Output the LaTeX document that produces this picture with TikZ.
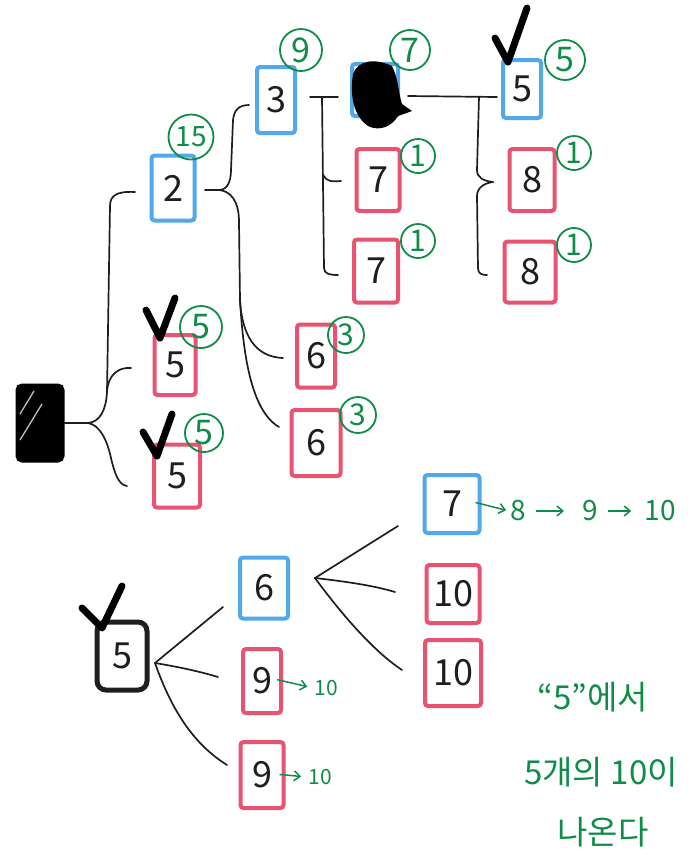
\documentclass[tikz,border=0pt]{standalone}
\usepackage{fontspec}
\setmainfont{Noto Sans CJK KR}
\usetikzlibrary{arrows.meta}
\definecolor{crayonblue}{RGB}{62,158,232}
\definecolor{crayonred}{RGB}{228,64,96}
\definecolor{pengreen}{RGB}{16,140,72}
\definecolor{pencil}{RGB}{30,30,30}
\begin{document}
\begin{tikzpicture}[x=1pt,y=-1pt,
  card/.style={draw, line width=4pt, rounded corners=3pt, inner sep=0pt,
    text=pencil, font=\fontsize{36}{40}\selectfont},
  bluecard/.style={card, draw=crayonblue, draw opacity=0.9},
  redcard/.style={card, draw=crayonred, draw opacity=0.9},
  tag/.style={circle, draw=pengreen, text=pengreen, line width=1.8pt,
    minimum size=38pt, inner sep=0pt, font=\fontsize{34}{34}\selectfont},
  onetag/.style={tag, minimum size=34pt, font=\fontsize{30}{30}\selectfont},
  wire/.style={line width=1.7pt, draw=pencil, line cap=round, line join=round},
  tick/.style={line width=7pt, draw=black, line cap=round, line join=round},
  gtext/.style={text=pengreen, inner sep=1pt},
  chainnum/.style={gtext, font=\fontsize{28}{28}\selectfont},
  smallnum/.style={gtext, font=\fontsize{21}{21}\selectfont},
  note/.style={text=pengreen, font=\fontsize{33}{35}\selectfont},
  garrow/.style={draw=pengreen, line width=1.5pt, -{Straight Barb[length=6pt,width=10pt]}}
]
\useasboundingbox (0,0) rectangle (696,855);

% ---------- upper tree: boxes ----------
\node[draw=black, fill=black, line width=3pt, rounded corners=5pt,
      minimum width=46pt, minimum height=76pt] (root) at (40,423) {};
\draw[white, line width=1.3pt, opacity=0.75] (20,414) -- (34,391) (20,440) -- (42,404);

\node[bluecard, minimum width=43pt, minimum height=65pt] (two) at (173,188) {2};
\node[tag, minimum size=45pt, font=\fontsize{28}{28}\selectfont] (t15) at (191,137) {15};

\node[bluecard, minimum width=38pt, minimum height=66pt] (three) at (276,100) {3};
\node[tag, minimum size=42pt] (t9) at (301,50) {9};

\node[bluecard, minimum width=46pt, minimum height=52pt] (four) at (375,90) {};
\fill[black] (353,74) .. controls (358,60) and (375,58) .. (392,66)
  .. controls (399,80) and (398,92) .. (402,104) -- (412,111)
  -- (398,116) .. controls (392,126) and (380,132) .. (368,126)
  .. controls (356,118) and (349,100) .. (353,74) -- cycle;
\node[tag, minimum size=40pt] (t7) at (410,50) {7};

\node[bluecard, minimum width=38pt, minimum height=58pt] (five) at (522,89) {5};
\node[tag, minimum size=40pt] (t5) at (565,60) {5};

\node[redcard, minimum width=43pt, minimum height=62pt] (sevA) at (378,180) {7};
\node[onetag] (t1a) at (418,156) {1};
\node[redcard, minimum width=44pt, minimum height=63pt] (sevB) at (376,271) {7};
\node[onetag] (t1b) at (418,241) {1};

\node[redcard, minimum width=45pt, minimum height=62pt] (eiA) at (532,180) {8};
\node[onetag] (t1c) at (574,153) {1};
\node[redcard, minimum width=51pt, minimum height=61pt] (eiB) at (530,272) {8};
\node[onetag] (t1d) at (574,245) {1};

\node[redcard, minimum width=41pt, minimum height=60pt] (fvA) at (175,365) {5};
\node[tag, minimum size=42pt] (t5a) at (201,327) {5};
\node[redcard, minimum width=46pt, minimum height=63pt] (fvB) at (177,476) {5};
\node[tag, minimum size=38pt] (t5b) at (204,433) {5};

\node[redcard, minimum width=38pt, minimum height=63pt] (sxA) at (316,356) {6};
\node[tag, minimum size=36pt, font=\fontsize{30}{30}\selectfont] (t3a) at (346,335) {3};
\node[redcard, minimum width=49pt, minimum height=66pt] (sxB) at (316,443) {6};
\node[tag, minimum size=36pt, font=\fontsize{30}{30}\selectfont] (t3b) at (358,415) {3};

% ---------- upper tree: connectors ----------
\coordinate (j0) at (88,423);
\coordinate (h2) at (135,192);
\coordinate (h5a) at (131,368);
\coordinate (h5b) at (127,486);
\draw[wire] (root.east) -- (j0);
\draw[wire] (j0) .. controls (100,422) and (106,410) .. (107,392) -- (110,206)
  .. controls (110,196) and (116,191) .. (h2);
\draw[wire] (107,392) .. controls (108,375) and (118,367) .. (h5a);
\draw[wire] (j0) .. controls (100,425) and (107,440) .. (111,458)
  .. controls (115,475) and (119,485) .. (h5b);

\coordinate (j1) at (205,190);
\coordinate (j1b) at (219,190);
\coordinate (h3) at (249,105);
\coordinate (h6a) at (283,358);
\coordinate (h6b) at (279,427);
\draw[wire] (j1) -- (j1b);
\draw[wire] (j1b) .. controls (227,190) and (231,182) .. (231,170) -- (233,120)
  .. controls (234,110) and (239,105) .. (h3);
\draw[wire] (j1b) .. controls (230,191) and (239,200) .. (239,222) -- (240,300)
  .. controls (242,335) and (255,357) .. (h6a);
\draw[wire] (240,300) .. controls (243,350) and (250,410) .. (h6b);

\coordinate (j2) at (310,97);
\coordinate (h4) at (338,97);
\coordinate (h7b) at (338,275);
\coordinate (h7a) at (341,181);
\draw[wire] (j2) -- (h4);
\draw[wire] (322,97) -- (324,268) .. controls (324,274) and (330,275) .. (h7b);
\draw[wire] (324,176) .. controls (326,181) and (332,182) .. (h7a);

\coordinate (j3) at (408,96);
\coordinate (h5) at (497,97);
\coordinate (h8a) at (493,182);
\coordinate (h8b) at (487,275);
\draw[wire] (j3) -- (h5);
\draw[wire] (479,97) -- (477,170) .. controls (477,178) and (484,181) .. (h8a);
\draw[wire] (h8a) .. controls (484,183) and (477,188) .. (477,196) -- (478,268)
  .. controls (478,274) and (482,275) .. (h8b);

% check marks
\draw[tick] (495,38) -- (508,62) -- (527,8);
\draw[tick] (146,310) -- (160,338) -- (175,298);
\draw[tick] (143,432) -- (157,456) -- (172,414);

% ---------- lower tree ----------
\node[draw=pencil, line width=5pt, rounded corners=9pt, inner sep=0pt,
      minimum width=50pt, minimum height=68pt, text=pencil,
      font=\fontsize{36}{40}\selectfont] (bfive) at (122,656) {5};
\draw[tick] (82,608) -- (102,628) -- (122,586);

\node[bluecard, minimum width=48pt, minimum height=61pt] (bsix) at (264,588) {6};
\node[redcard, minimum width=38pt, minimum height=64pt] (bnineA) at (262,681) {9};
\node[redcard, minimum width=43pt, minimum height=66pt] (bnineB) at (262,775) {9};

\node[bluecard, minimum width=55pt, minimum height=58pt] (bseven) at (452,504) {7};
\node[redcard, minimum width=53pt, minimum height=58pt] (btenA) at (453,594) {10};
\node[redcard, minimum width=56pt, minimum height=66pt] (btenB) at (453,673) {10};

\coordinate (k0) at (155,663);
\coordinate (e6) at (223,607);
\coordinate (e9a) at (218,677);
\coordinate (e9b) at (227,765);
\draw[wire] (k0) -- (e6);
\draw[wire] (k0) .. controls (185,668) and (205,673) .. (e9a);
\draw[wire] (k0) .. controls (175,720) and (200,748) .. (e9b);

\coordinate (k1) at (315,578);
\coordinate (e7) at (398,526);
\coordinate (e10a) at (395,592);
\coordinate (e10b) at (402,670);
\draw[wire] (k1) -- (e7);
\draw[wire] (k1) .. controls (350,582) and (375,586) .. (e10a);
\draw[wire] (k1) .. controls (340,612) and (372,650) .. (e10b);

% green counting chains
\node[chainnum] (c8) at (518,511) {8};
\node[chainnum] (c9) at (590,511) {9};
\node[chainnum] (c10) at (660,511) {10};
\draw[garrow, shorten <=-6pt, shorten >=3pt] (bseven.east) -- (c8.west);
\draw[garrow, shorten <=9pt, shorten >=17pt] (c8.east) -- (c9.west);
\draw[garrow, shorten <=9pt, shorten >=12pt] (c9.east) -- (c10.west);

\node[smallnum] (r1) at (326,688) {10};
\node[smallnum] (r2) at (320,777) {10};
\draw[garrow, shorten <=-6pt, shorten >=6pt] (bnineA.east) -- (r1.west);
\draw[garrow, shorten <=-6pt, shorten >=6pt] (bnineB.east) -- (r2.west);

% note
\node[note] (q1) at (593,697) {“5”에서};
\node[note] (q2) at (601,772) {5개의 10이};
\node[note] (q3) at (603,832) {나온다};
\end{tikzpicture}
\end{document}
